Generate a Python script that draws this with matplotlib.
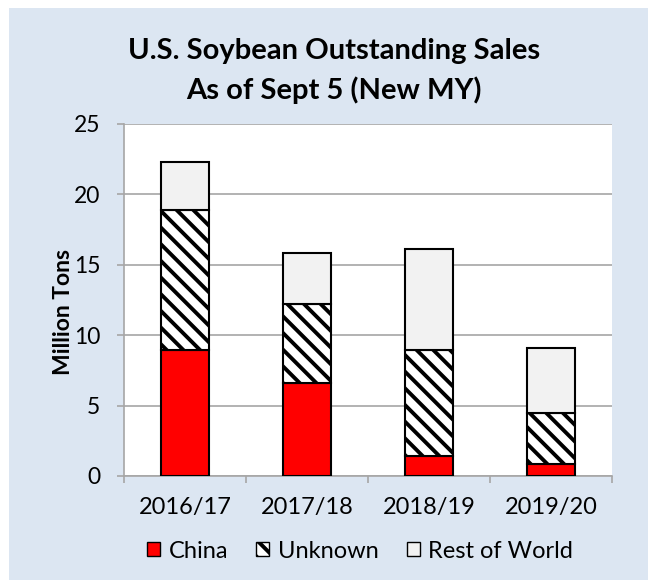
import matplotlib
matplotlib.use("Agg")
import matplotlib.pyplot as plt
from matplotlib.patches import Rectangle, Patch
import numpy as np

categories = ["2016/17", "2017/18", "2018/19", "2019/20"]
china = [8.98, 6.61, 1.40, 0.83]
unknown = [9.93, 5.62, 7.58, 3.67]
rest_of_world = [3.39, 3.60, 7.16, 4.58]
series_names = ["China", "Unknown", "Rest of World"]
yticks = [0, 5, 10, 15, 20, 25]

plt.rcParams['font.family'] = ['Lato', 'DejaVu Sans']
plt.rcParams['hatch.linewidth'] = 2.8
plt.rcParams['hatch.color'] = 'black'

W, H = 648, 580
fig = plt.figure(figsize=(W / 100, H / 100), dpi=100)
fig.patch.set_facecolor('white')
bg = Rectangle((9 / W, 0), 1 - 9 / W, 1 - 8 / H, transform=fig.transFigure,
               facecolor='#dce6f2', edgecolor='none', zorder=-10)
fig.patches.append(bg)

ax = fig.add_axes([124 / W, 1 - 476 / H, (612 - 124) / W, (476 - 124) / H])
ax.set_facecolor('white')

x = np.arange(len(categories))
bw = 0.4
china_a = np.array(china)
unk_a = np.array(unknown)
row_a = np.array(rest_of_world)
ax.bar(x, china_a, bw, color='#ff0000', edgecolor='black', linewidth=1.5, zorder=3)
ax.bar(x, unk_a, bw, bottom=china_a, color='white', edgecolor='black',
       hatch='\\\\', linewidth=1.5, zorder=3)
ax.bar(x, row_a, bw, bottom=china_a + unk_a, color='#f2f2f2', edgecolor='black',
       linewidth=1.5, zorder=3)

ax.set_ylim(0, 25)
ax.set_xlim(-0.5, len(categories) - 0.5)
ax.set_yticks(yticks)
ax.set_yticklabels([str(t) for t in yticks], fontsize=16.5)
ax.yaxis.grid(True, color='#a6a6a6', linewidth=1.2, zorder=0)
ax.set_axisbelow(True)

ax.set_xticks(x)
ax.set_xticklabels(categories, fontsize=17)
ax.set_xticks(np.arange(-0.5, len(categories), 1.0), minor=True)
ax.tick_params(axis='x', which='major', length=0, pad=15)
ax.tick_params(axis='x', which='minor', length=5, color='#a6a6a6', width=1.2)
ax.tick_params(axis='y', length=5, color='#a6a6a6', width=1.2, pad=12)

for s in ['top', 'right']:
    ax.spines[s].set_visible(False)
for s in ['left', 'bottom']:
    ax.spines[s].set_color('#a6a6a6')
    ax.spines[s].set_linewidth(1.2)

fig.text(64 / W, 1 - 312 / H, "Million Tons", rotation=90, ha='center',
         va='center', fontsize=16.5, fontweight='bold')

fig.text(334 / W, 1 - 51 / H, "U.S. Soybean Outstanding Sales", ha='center',
         va='center', fontsize=21, fontweight='bold')
fig.text(334 / W, 1 - 90 / H, "As of Sept 5 (New MY)", ha='center',
         va='center', fontsize=21, fontweight='bold')

handles = [
    Patch(facecolor='#ff0000', edgecolor='black', label=series_names[0]),
    Patch(facecolor='white', edgecolor='black', hatch='\\\\', label=series_names[1]),
    Patch(facecolor='#f2f2f2', edgecolor='black', label=series_names[2]),
]
fig.legend(handles=handles, loc='center', bbox_to_anchor=(360 / W, 1 - 551 / H),
           ncol=3, frameon=False, fontsize=17, handlelength=0.55, handleheight=0.55,
           handletextpad=0.35, columnspacing=1.2, borderpad=0.2)

fig.savefig("out.png", dpi=100)
